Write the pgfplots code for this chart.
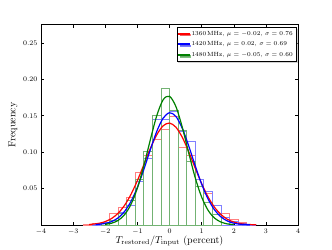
\documentclass[border=0pt]{standalone}
\usepackage{pgfplots}
\pgfplotsset{compat=1.18}
\usetikzlibrary{shadows}
\definecolor{mplgreen}{rgb}{0,0.5,0}
\definecolor{hred}{rgb}{1,0.5,0.5}
\definecolor{hblue}{rgb}{0.5,0.5,1}
\definecolor{hgreen}{rgb}{0.45,0.7,0.45}
\begin{document}
\begin{tikzpicture}
\begin{axis}[name=ax, scale only axis, width=257pt, height=200.3pt,
  xmin=-4, xmax=4, ymin=0, ymax=0.275,
  xtick={-4,-3,-2,-1,0,1,2,3,4}, ytick={0.05,0.1,0.15,0.2,0.25},
  yticklabel style={/pgf/number format/fixed, /pgf/number format/fixed zerofill, /pgf/number format/precision=2},
  tick label style={font=\fontsize{7.5}{9}\selectfont},
  tick style={black, line width=0.5pt}, major tick length=3pt,
  axis line style={line width=0.6pt},
  xlabel={$T_{\mathrm{restored}}/T_{\mathrm{input}}$ (percent)},
  ylabel={Frequency},
  label style={font=\fontsize{9}{11}\selectfont},
  every axis x label/.style={at={(axis description cs:0.5,0)}, anchor=center, yshift=-16pt},
  every axis y label/.style={at={(axis description cs:-0.109,0.5)}, rotate=90, anchor=center},
  legend style={at={(1,1)}, anchor=north east, xshift=-1.5pt, yshift=-2.5pt,
    font=\fontsize{6}{7}\selectfont, line width=0.6pt,
    drop shadow={shadow xshift=1.5pt, shadow yshift=-1.5pt, fill=gray!70},
    inner sep=1.5pt, row sep=1pt},
  legend cell align=left,
]
% histograms (left bin edges, values)
\addplot[ybar interval, draw=hred, fill=none, line width=0.7pt, forget plot] coordinates {
(-2.6667,0.001) (-2.4,0.002) (-2.1333,0.004) (-1.8667,0.016) (-1.6,0.024) (-1.3333,0.038)
(-1.0667,0.072) (-0.8,0.096) (-0.5333,0.118) (-0.2667,0.131) (0,0.149) (0.2667,0.107)
(0.5333,0.096) (0.8,0.063) (1.0667,0.044) (1.3333,0.027) (1.6,0.016) (1.8667,0.008)
(2.1333,0.004) (2.4,0.001) (2.6667,0.001)};
\addplot[ybar interval, draw=hblue, fill=none, line width=0.7pt, forget plot] coordinates {
(-2.4,0.0005) (-2.1333,0.003) (-1.8667,0.006) (-1.6,0.018) (-1.3333,0.027)
(-1.0667,0.060) (-0.8,0.092) (-0.5333,0.145) (-0.2667,0.145) (0,0.156) (0.2667,0.128)
(0.5333,0.115) (0.8,0.063) (1.0667,0.046) (1.3333,0.027) (1.6,0.011) (1.8667,0.005)
(2.1333,0.002) (2.4,0.0005) (2.6667,0.0005)};
\addplot[ybar interval, draw=hgreen, fill=none, line width=0.7pt, forget plot] coordinates {
(-2.1333,0.002) (-1.8667,0.007) (-1.6,0.016) (-1.3333,0.034)
(-1.0667,0.062) (-0.8,0.101) (-0.5333,0.150) (-0.2667,0.187) (0,0.158) (0.2667,0.130)
(0.5333,0.087) (0.8,0.053) (1.0667,0.031) (1.3333,0.014) (1.6,0.014)};
% fitted curves
\addplot[red, line width=1.2pt, smooth, legend image code/.code={\fill[red] (0pt,-0.5pt) rectangle (10pt,0.5pt);}] coordinates {
(-2.5,0.00068) (-2.2,0.00229) (-2.0,0.00470) (-1.8,0.00902) (-1.6,0.01613) (-1.4,0.02692)
(-1.2,0.04196) (-1.0,0.06096) (-0.8,0.08268) (-0.6,0.10464) (-0.4,0.12355) (-0.2,0.13612)
(0,0.13995) (0.2,0.13426) (0.4,0.12018) (0.6,0.10037) (0.8,0.07822) (1.0,0.05688)
(1.2,0.03860) (1.4,0.02444) (1.6,0.01444) (1.8,0.00795) (2.0,0.00410) (2.2,0.00196)
(2.4,0.00088) (2.7,0.00023)};
\addlegendentry{1360\,MHz, $\mu = -0.02$, $\sigma = 0.76$}
\addplot[blue, line width=1.2pt, smooth, legend image code/.code={\fill[blue] (0pt,-0.5pt) rectangle (10pt,0.5pt);}] coordinates {
(-2.3,0.00054) (-2.0,0.00212) (-1.8,0.00476) (-1.6,0.00980) (-1.4,0.01855) (-1.2,0.03230)
(-1.0,0.05170) (-0.8,0.07610) (-0.6,0.10299) (-0.4,0.12813) (-0.2,0.14657) (0,0.15414)
(0.2,0.14904) (0.4,0.13250) (0.6,0.10831) (0.8,0.08140) (1.0,0.05624) (1.2,0.03573)
(1.4,0.02087) (1.6,0.01121) (1.8,0.00553) (2.0,0.00251) (2.2,0.00105) (2.5,0.00024)};
\addlegendentry{1420\,MHz, $\mu = 0.02$, $\sigma = 0.69$}
\addplot[mplgreen, line width=1.2pt, smooth, legend image code/.code={\fill[mplgreen] (0pt,-0.5pt) rectangle (10pt,0.5pt);}] coordinates {
(-2.0,0.00090) (-1.8,0.00252) (-1.6,0.00630) (-1.4,0.01411) (-1.2,0.02824) (-1.0,0.05062)
(-0.8,0.08117) (-0.6,0.11649) (-0.4,0.14957) (-0.2,0.17185) (0,0.17668) (0.2,0.16257)
(0.4,0.13383) (0.6,0.09860) (0.8,0.06500) (1.0,0.03835) (1.2,0.02025) (1.4,0.00956)
(1.6,0.00404) (1.8,0.00153) (2.0,0.00052)};
\addlegendentry{1480\,MHz, $\mu = -0.05$, $\sigma = 0.60$}
\end{axis}
\pgfresetboundingbox
\path (ax.south west) ++(-41pt,-24pt) rectangle ([xshift=34pt,yshift=24.7pt]ax.north east);
\end{tikzpicture}
\end{document}
